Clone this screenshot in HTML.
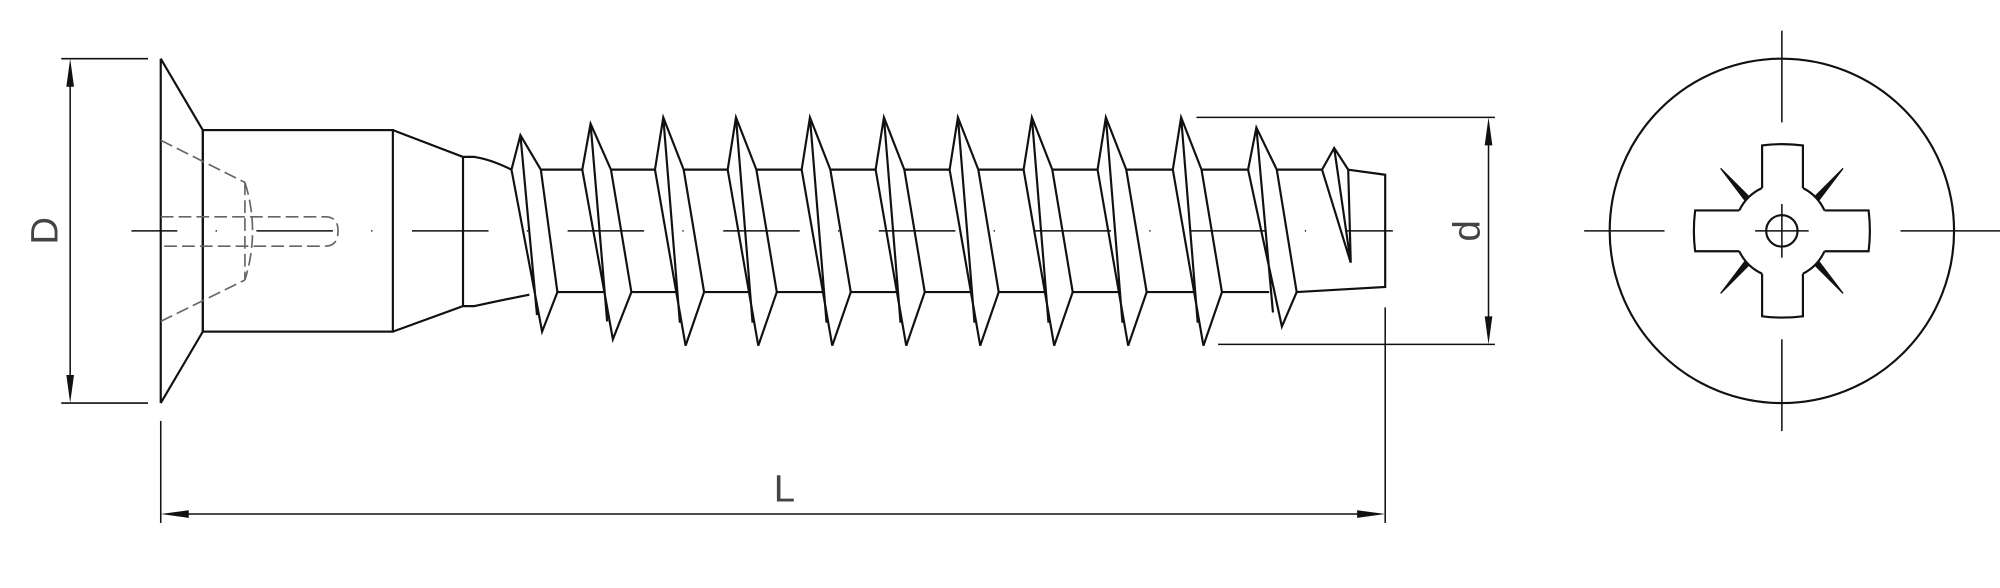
<!DOCTYPE html>
<html><head><meta charset="utf-8"><style>
html,body{margin:0;padding:0;background:#fff;}
svg{display:block;}
</style></head><body>
<svg width="2000" height="588" viewBox="0 0 1568 461" xmlns="http://www.w3.org/2000/svg">
<g fill="none" stroke="#111" stroke-width="1.7" stroke-linejoin="miter">
<!-- D dimension -->
<line x1="48" y1="46" x2="116" y2="46" stroke-width="1.2"/>
<line x1="48" y1="316" x2="116" y2="316" stroke-width="1.2"/>
<line x1="55" y1="52" x2="55" y2="310" stroke-width="1.2"/>
<!-- head -->
<path d="M126,46 L126,316 M126,46 L159,102 M126,316 L159,260 M159,102 L159,260"/>
<rect x="159" y="102" width="149" height="158"/>
<!-- hidden lines -->
<g stroke="#666" stroke-width="1.3" stroke-dasharray="10 4">
<path d="M126,110 L192,143 M126,252 L192,219.5"/>
<path d="M192,143 Q204,181 192,219.5"/>
<path d="M192,143 L192,219.5"/>
<path d="M126,170 L255,170 Q265,170 265,181 Q265,193 255,193 L126,193"/>
</g>
<!-- taper -->
<path d="M308,102 L363,123 L372,123 Q385,125 401,133"/>
<path d="M308,260 L363,240 L372,240 Q390,236 415,231"/>
<line x1="363" y1="123" x2="363" y2="240"/>
<!-- threads -->
<path d="M401,133 L408,106 L424,133 L437,229 L425,260 Z M408,106 L421,247"/>
<path d="M456.5,133 L463,97 L479,133 L495,229 L480.5,266 Z M463,97 L476,252"/>
<path d="M513.5,133 L520,92 L536,133 L552,229 L537.5,271 Z M520,92 L533,253"/>
<path d="M570.5,133 L577,92 L593,133 L609,229 L594.5,271 Z M577,92 L590,253"/>
<path d="M628.5,133 L635,92 L651,133 L667,229 L652.5,271 Z M635,92 L648,253"/>
<path d="M686.5,133 L693,92 L709,133 L725,229 L710.5,271 Z M693,92 L706,253"/>
<path d="M744.5,133 L751,92 L767,133 L783,229 L768.5,271 Z M751,92 L764,253"/>
<path d="M802.5,133 L809,92 L825,133 L841,229 L826.5,271 Z M809,92 L822,253"/>
<path d="M860.5,133 L867,92 L883,133 L899,229 L884.5,271 Z M867,92 L880,253"/>
<path d="M919.5,133 L926,92 L942,133 L958,229 L943.5,271 Z M926,92 L939,253"/>
<path d="M978.5,133 L985,100 L1001,133 L1016.6,229 L1005,256 Z M985,100 L998,245"/>
<!-- core lines -->
<path d="M424,133 L456.5,133 M479,133 L513.5,133 M536,133 L570.5,133 M593,133 L628.5,133 M651,133 L686.5,133 M709,133 L744.5,133 M767,133 L802.5,133 M825,133 L860.5,133 M883,133 L919.5,133 M942,133 L978.5,133 M1001,133 L1036.5,133"/>
<path d="M437,229 L473,229 M495,229 L530,229 M552,229 L587,229 M609,229 L645,229 M667,229 L703,229 M725,229 L761,229 M783,229 L819,229 M841,229 L877,229 M899,229 L936,229 M958,229 L995,229"/>
<!-- tip -->
<path d="M1036.5,133 L1046,116 L1057,133 M1036.5,133 L1059,206 M1046,116 L1059,206 M1057,133 L1059,206"/>
<path d="M1057,133 L1086,137 L1086,225 L1016.6,229"/>
<!-- centerline -->
<line x1="103" y1="181" x2="1092" y2="181" stroke-width="1.2" stroke-dasharray="60 30 1 31" stroke-dashoffset="24"/>
<!-- d dimension -->
<line x1="938" y1="92" x2="1172" y2="92" stroke-width="1.2"/>
<line x1="955" y1="270" x2="1172" y2="270" stroke-width="1.2"/>
<line x1="1167" y1="98" x2="1167" y2="264" stroke-width="1.2"/>
<!-- L dimension -->
<line x1="126" y1="330" x2="126" y2="410" stroke-width="1.2"/>
<line x1="1086" y1="241" x2="1086" y2="410" stroke-width="1.2"/>
<line x1="132" y1="403" x2="1080" y2="403" stroke-width="1.2"/>
<!-- end view -->
<circle cx="1397" cy="181" r="135"/>
<line x1="1397" y1="24" x2="1397" y2="96" stroke-width="1.2"/>
<line x1="1397" y1="266" x2="1397" y2="338" stroke-width="1.2"/>
<line x1="1242" y1="181" x2="1305" y2="181" stroke-width="1.2"/>
<line x1="1490" y1="181" x2="1568" y2="181" stroke-width="1.2"/>
<path d="M1381.5,147.4 L1381.5,114 Q1397,112 1413.5,114 L1413.5,147.4"/>
<path d="M1381.5,214.6 L1381.5,248 Q1397,250 1413.5,248 L1413.5,214.6"/>
<path d="M1363.6,165 L1329,165 Q1327,181 1329,197 L1363.6,197"/>
<path d="M1430.4,165 L1465,165 Q1467,181 1465,197 L1430.4,197"/>
<path d="M1413.5,147.4 A37,37 0 0 1 1430.4,165 M1430.4,197 A37,37 0 0 1 1413.5,214.6 M1381.5,214.6 A37,37 0 0 1 1363.6,197 M1363.6,165 A37,37 0 0 1 1381.5,147.4"/>
<circle cx="1397" cy="181" r="12.3"/>
<line x1="1397" y1="160" x2="1397" y2="202" stroke-width="1.2"/>
<line x1="1376" y1="181" x2="1418" y2="181" stroke-width="1.2"/>
<g fill="#111" stroke-width="1">
<path d="M1349,132 L1371,154 L1368,157 Z"/>
<path d="M1445,132 L1423,154 L1426,157 Z"/>
<path d="M1349,230 L1371,208 L1368,205 Z"/>
<path d="M1445,230 L1423,208 L1426,205 Z"/>
</g>
</g>
<!-- arrowheads -->
<g fill="#111">
<path d="M55,46 L52,68 L58,68 Z"/>
<path d="M55,316 L52,294 L58,294 Z"/>
<path d="M1167,92 L1164,114 L1170,114 Z"/>
<path d="M1167,270 L1164,248 L1170,248 Z"/>
<path d="M126,403 L148,400 L148,406 Z"/>
<path d="M1086,403 L1064,400 L1064,406 Z"/>
</g>
<g font-family="Liberation Sans, sans-serif" fill="#444" font-size="30">
<text x="0" y="0" transform="translate(45,181) rotate(-90)" text-anchor="middle">D</text>
<text x="0" y="0" transform="translate(1160,181) rotate(-90)" text-anchor="middle">d</text>
<text x="615" y="393" text-anchor="middle">L</text>
</g>
</svg>
</body></html>
